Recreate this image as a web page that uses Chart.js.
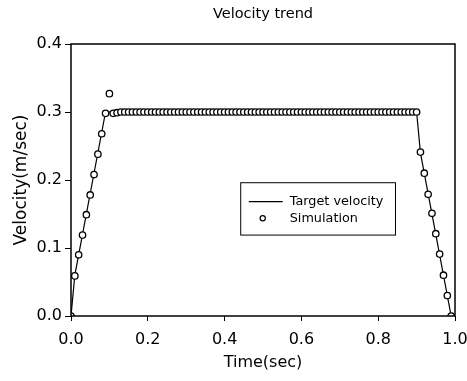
<!DOCTYPE html>
<html lang="en">
<head>
    <meta charset="UTF-8">
    <title>Velocity trend</title>
    <script src="https://cdn.jsdelivr.net/npm/chart.js"></script>
    <style>
        body {
            margin: 0;
            background-color: #ffffff;
        }

        #chart-container {
            width: 467px;
            height: 381px;
        }
    </style>
</head>
<body>

    <div id="chart-container">
        <canvas id="myChart"></canvas>
    </div>

    <script>
        // simulation samples (time in sec, velocity in m/sec)
        var simTime = [0, 0.01, 0.02, 0.03, 0.04, 0.05, 0.06, 0.07, 0.08, 0.09, 0.10,
            0.11, 0.12, 0.13, 0.14, 0.15, 0.16, 0.17, 0.18, 0.19, 0.20,
            0.21, 0.22, 0.23, 0.24, 0.25, 0.26, 0.27, 0.28, 0.29, 0.30,
            0.31, 0.32, 0.33, 0.34, 0.35, 0.36, 0.37, 0.38, 0.39, 0.40,
            0.41, 0.42, 0.43, 0.44, 0.45, 0.46, 0.47, 0.48, 0.49, 0.50,
            0.51, 0.52, 0.53, 0.54, 0.55, 0.56, 0.57, 0.58, 0.59, 0.60,
            0.61, 0.62, 0.63, 0.64, 0.65, 0.66, 0.67, 0.68, 0.69, 0.70,
            0.71, 0.72, 0.73, 0.74, 0.75, 0.76, 0.77, 0.78, 0.79, 0.80,
            0.81, 0.82, 0.83, 0.84, 0.85, 0.86, 0.87, 0.88, 0.89, 0.90,
            0.91, 0.92, 0.93, 0.94, 0.95, 0.96, 0.97, 0.98, 0.99];
        var simVelocity = [0, 0.059, 0.09, 0.119, 0.149, 0.178, 0.208, 0.238, 0.268, 0.298, 0.327,
            0.298, 0.299, 0.3, 0.3, 0.3, 0.3, 0.3, 0.3, 0.3, 0.3,
            0.3, 0.3, 0.3, 0.3, 0.3, 0.3, 0.3, 0.3, 0.3, 0.3,
            0.3, 0.3, 0.3, 0.3, 0.3, 0.3, 0.3, 0.3, 0.3, 0.3,
            0.3, 0.3, 0.3, 0.3, 0.3, 0.3, 0.3, 0.3, 0.3, 0.3,
            0.3, 0.3, 0.3, 0.3, 0.3, 0.3, 0.3, 0.3, 0.3, 0.3,
            0.3, 0.3, 0.3, 0.3, 0.3, 0.3, 0.3, 0.3, 0.3, 0.3,
            0.3, 0.3, 0.3, 0.3, 0.3, 0.3, 0.3, 0.3, 0.3, 0.3,
            0.3, 0.3, 0.3, 0.3, 0.3, 0.3, 0.3, 0.3, 0.3, 0.3,
            0.241, 0.21, 0.179, 0.151, 0.121, 0.091, 0.06, 0.03, 0];

        // target velocity profile corners
        var targetTime = [0, 0.01, 0.09, 0.90, 0.91, 0.99];
        var targetVelocity = [0, 0.06, 0.30, 0.30, 0.24, 0];

        var xTicks = [0, 0.2, 0.4, 0.6, 0.8, 1.0];
        var yTicks = [0, 0.1, 0.2, 0.3, 0.4];

        var seriesNames = ['Target velocity', 'Simulation'];
        var chartTitle = 'Velocity trend';
        var xTitle = 'Time(sec)';
        var yTitle = 'Velocity(m/sec)';

        function toPoints(xs, ys) {
            return xs.map(function (x, i) { return { x: x, y: ys[i] }; });
        }

        var fontFamily = "'DejaVu Sans', sans-serif";

        // box frame round the plot area + title centred over the plot
        var framePlugin = {
            id: 'frame',
            afterDraw: function (chart) {
                var a = chart.chartArea;
                var c = chart.ctx;
                c.save();
                c.strokeStyle = '#000';
                c.lineWidth = 1.5;
                c.strokeRect(a.left, a.top, a.right - a.left, a.bottom - a.top);
                c.fillStyle = '#000';
                c.font = '14.5px ' + fontFamily;
                c.textAlign = 'center';
                c.textBaseline = 'middle';
                c.fillText(chartTitle, (a.left + a.right) / 2, 14);
                c.restore();
            }
        };

        // legend drawn inside the plot, like the original figure
        var insideLegend = {
            id: 'insideLegend',
            afterDraw: function (chart) {
                var xs = chart.scales.x, ys = chart.scales.y;
                var c = chart.ctx;
                var left = xs.getPixelForValue(0.442), right = xs.getPixelForValue(0.845);
                var top = ys.getPixelForValue(0.196), bottom = ys.getPixelForValue(0.119);
                c.save();
                c.fillStyle = '#fff';
                c.fillRect(left, top, right - left, bottom - top);
                c.strokeStyle = '#000';
                c.lineWidth = 1;
                c.strokeRect(left, top, right - left, bottom - top);
                var row1 = top + (bottom - top) * 0.36, row2 = top + (bottom - top) * 0.68;
                c.beginPath();
                c.moveTo(left + 8, row1);
                c.lineTo(left + 42, row1);
                c.lineWidth = 1.2;
                c.stroke();
                c.beginPath();
                c.arc(left + 22, row2, 2.6, 0, Math.PI * 2);
                c.lineWidth = 1.2;
                c.stroke();
                c.fillStyle = '#000';
                c.font = '12.8px ' + fontFamily;
                c.textBaseline = 'middle';
                c.fillText(seriesNames[0], left + 49, row1);
                c.fillText(seriesNames[1], left + 49, row2);
                c.restore();
            }
        };

        var ctx = document.getElementById('myChart').getContext('2d');
        var myChart = new Chart(ctx, {
            type: 'scatter',
            data: {
                datasets: [{
                    label: seriesNames[0],
                    data: toPoints(targetTime, targetVelocity),
                    showLine: true,
                    borderColor: '#000',
                    borderWidth: 1.2,
                    pointRadius: 0,
                    order: 2
                }, {
                    label: seriesNames[1],
                    data: toPoints(simTime, simVelocity),
                    showLine: false,
                    pointRadius: 3.2,
                    pointBorderWidth: 1.3,
                    pointBorderColor: '#000',
                    pointBackgroundColor: '#fff',
                    order: 1
                }]
            },
            options: {
                responsive: true,
                maintainAspectRatio: false,
                animation: false,
                layout: { padding: { left: 0, right: 12, top: 44, bottom: 0 } },
                plugins: {
                    legend: { display: false },
                    tooltip: { enabled: false },
                    title: { display: false }
                },
                scales: {
                    x: {
                        type: 'linear',
                        min: 0,
                        max: 1,
                        afterBuildTicks: function (axis) {
                            axis.ticks = xTicks.map(function (v) { return { value: v }; });
                        },
                        afterFit: function (axis) {
                            axis.height = 65;
                            axis.paddingLeft = 0;
                            axis.paddingRight = 0;
                        },
                        ticks: {
                            color: '#000',
                            font: { family: fontFamily, size: 16 },
                            padding: 9,
                            maxRotation: 0,
                            callback: function (v) { return v.toFixed(1); }
                        },
                        grid: { drawOnChartArea: false, drawTicks: true, tickLength: 5, color: '#000' },
                        border: { display: false },
                        title: {
                            display: true,
                            text: xTitle,
                            color: '#000',
                            font: { family: fontFamily, size: 16 },
                            padding: { top: 0, bottom: 9 }
                        }
                    },
                    y: {
                        min: 0,
                        max: 0.4,
                        afterBuildTicks: function (axis) {
                            axis.ticks = yTicks.map(function (v) { return { value: v }; });
                        },
                        afterFit: function (axis) {
                            axis.width = 71;
                            axis.paddingTop = 0;
                            axis.paddingBottom = 0;
                        },
                        ticks: {
                            color: '#000',
                            font: { family: fontFamily, size: 16 },
                            padding: 3,
                            callback: function (v) { return v.toFixed(1); }
                        },
                        grid: { drawOnChartArea: false, drawTicks: true, tickLength: 6, color: '#000' },
                        border: { display: false },
                        title: {
                            display: true,
                            text: yTitle,
                            color: '#000',
                            font: { family: fontFamily, size: 17 },
                            padding: { top: 11, bottom: 0 }
                        }
                    }
                }
            },
            plugins: [framePlugin, insideLegend]
        });
    </script>

</body>
</html>
